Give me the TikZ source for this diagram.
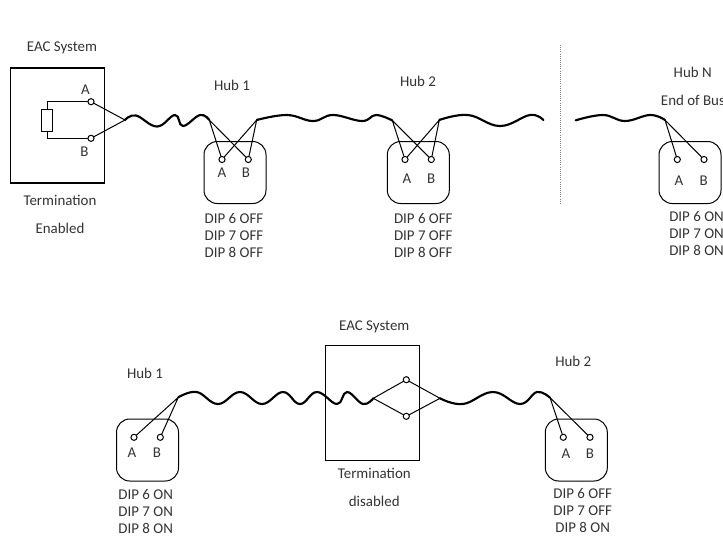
\documentclass[tikz,border=0pt]{standalone}
\usepackage{fontspec}
\setmainfont{Carlito}
\begin{document}
\begin{tikzpicture}[x=0.75pt,y=-0.75pt,
  lbl/.style={font=\fontsize{11.2pt}{13pt}\selectfont,text=black!80,inner sep=0pt,anchor=center},
  dip/.style={lbl,align=center,font=\fontsize{11.2pt}{12.75pt}\selectfont},
  sysbox/.style={draw=black,line width=0.9pt,minimum width=70.5pt,minimum height=86.25pt,inner sep=0pt},
  hubbox/.style={draw=black,line width=0.75pt,rounded corners=10pt,minimum width=46.5pt,minimum height=46.5pt,inner sep=0pt},
  term/.style={circle,draw=black,fill=white,line width=0.75pt,minimum size=4.6pt,inner sep=0pt},
  res/.style={draw=black,line width=0.75pt,minimum width=8pt,minimum height=16pt,inner sep=0pt},
  wire/.style={line width=0.75pt},
  twist/.style={line width=1.6pt,line cap=round}]
\useasboundingbox (0,0) rectangle (723,537);
\clip (0,0) rectangle (723,537);
% top row boxes
\node[sysbox] (sysA) at (57.7,125.5) {};
\node[hubbox] (hubA) at (235,172.5) {};
\node[hubbox] (hubB) at (418.3,172.5) {};
\node[hubbox] (hubN) at (690,172.5) {};
% junctions
\coordinate (j0) at (125,120);
\coordinate (j1) at (209.3,120);
\coordinate (j2) at (256.7,120);
\coordinate (j3) at (392.3,120.5);
\coordinate (j4) at (439.3,120);
\coordinate (e1) at (543.3,120);
\coordinate (e2) at (575.7,120.3);
\coordinate (j5) at (665,120);
% top terminal positions
\coordinate (psA) at (91,101.7);
\coordinate (psB) at (91,138.3);
\node[res] (R) at (47.2,120.5) {};
% top wires
\draw[wire] (psA) -| (R.north);
\draw[wire] (psB) -| (R.south);
\draw[wire] (psA) -- (j0) -- (psB);
\draw[wire] (222,159.5) coordinate (paA) -- (j1) -- (248.3,159.5) coordinate (paB);
\draw[wire] (paA) -- (j2) -- (paB);
\draw[wire] (405,159.5) coordinate (pbA) -- (j3) -- (431.3,159.5) coordinate (pbB);
\draw[wire] (pbA) -- (j4) -- (pbB);
\draw[wire] (677.3,159.5) coordinate (pnA) -- (j5) -- (704,159.5) coordinate (pnB);
% top terminals
\node[term] (sA) at (psA) {};
\node[term] (sB) at (psB) {};
\node[term] (aA) at (paA) {};
\node[term] (aB) at (paB) {};
\node[term] (bA) at (pbA) {};
\node[term] (bB) at (pbB) {};
\node[term] (nA) at (pnA) {};
\node[term] (nB) at (pnB) {};
% twisted pairs
\draw[twist] plot[smooth,tension=0.7] coordinates {(j0) (136,115.5) (157,126.5) (175,115) (183,126) (200,115) (j1)};
\draw[twist] plot[smooth,tension=0.7] coordinates {(j2) (287,115) (313,121) (333,115) (362,121) (376,115) (j3)};
\draw[twist] plot[smooth,tension=0.7] coordinates {(j4) (468,115) (500,126) (530,115) (e1)};
\draw[twist] plot[smooth,tension=0.7] coordinates {(e2) (603,115) (625,121) (650,115) (j5)};
\draw[black!50,line width=0.6pt,densely dotted] (560,45) coordinate (d1) -- (560,204) coordinate (d2);
% top texts
\node[lbl] (t1) at (62,48) {EAC System};
\node[lbl] (t2) at (85.5,90) {A};
\node[lbl] (t3) at (84.5,152) {B};
\node[lbl] (t4) at (60,200) {Termination};
\node[lbl] (t5) at (60,228) {Enabled};
\node[lbl] (t6) at (232,85) {Hub 1};
\node[lbl] (t7) at (222,173) {A};
\node[lbl] (t8) at (246,173) {B};
\node[dip] (t9) at (234,235.3) {DIP 6 OFF\\DIP 7 OFF\\DIP 8 OFF};
\node[lbl] (t10) at (418,81.7) {Hub 2};
\node[lbl] (t11) at (407,179) {A};
\node[lbl] (t12) at (431.3,179) {B};
\node[dip] (t13) at (423.3,235.3) {DIP 6 OFF\\DIP 7 OFF\\DIP 8 OFF};
\node[lbl] (t14) at (692.7,72) {Hub N};
\node[lbl,anchor=west] (t15) at (660.7,100) {End of Bus};
\node[lbl] (t16) at (679,181) {A};
\node[lbl] (t17) at (703.7,181) {B};
\node[dip,anchor=west] (t18) at (669,233.5) {DIP 6 ON\\DIP 7 ON\\DIP 8 ON};
% bottom row
\node[sysbox] (sysC) at (372.3,403.2) {};
\node[hubbox] (hubC) at (147.5,450) {};
\node[hubbox] (hubD) at (576.3,450) {};
\coordinate (pcA) at (134,437.3);
\coordinate (pcB) at (160.3,437.3);
\coordinate (pdA) at (563.3,437.3);
\coordinate (pdB) at (590,437.3);
\coordinate (pmT) at (406.3,379.7);
\coordinate (pmB) at (406.3,416.3);
\coordinate (k1) at (178.3,397.3);
\coordinate (k2) at (373.3,398.3);
\coordinate (k3) at (440,398.3);
\coordinate (k4) at (550,397.7);
\draw[wire] (pcA) -- (k1) -- (pcB);
\draw[wire] (pdA) -- (k4) -- (pdB);
\draw[wire] (k2) -- (pmT) -- (k3) -- (pmB) -- (k2);
\node[term] (cA) at (pcA) {};
\node[term] (cB) at (pcB) {};
\node[term] (dA) at (pdA) {};
\node[term] (dB) at (pdB) {};
\node[term] (mT) at (pmT) {};
\node[term] (mB) at (pmB) {};
\draw[twist] plot[smooth,tension=0.7] coordinates {(k1) (196.7,392) (218,404) (240,392) (262,404) (283,392) (300,404) (317,392) (337,404) (347,392) (363,404) (k2)};
\draw[twist] plot[smooth,tension=0.7] coordinates {(k3) (463,404) (493,392) (520,404) (537,392) (k4)};
\node[lbl] (b1) at (374.3,327) {EAC System};
\node[lbl] (b2) at (145,373) {Hub 1};
\node[lbl] (b3) at (132,453) {A};
\node[lbl] (b4) at (157,453) {B};
\node[dip] (b5) at (145.7,511.7) {DIP 6 ON\\DIP 7 ON\\DIP 8 ON};
\node[lbl] (b6) at (374.3,473) {Termination};
\node[lbl] (b7) at (374.3,501) {disabled};
\node[lbl] (b8) at (573.3,361.7) {Hub 2};
\node[lbl] (b9) at (566,454) {A};
\node[lbl] (b10) at (590,454) {B};
\node[dip] (b11) at (582.7,510) {DIP 6 OFF\\DIP 7 OFF\\DIP 8 ON};
\end{tikzpicture}
\end{document}
